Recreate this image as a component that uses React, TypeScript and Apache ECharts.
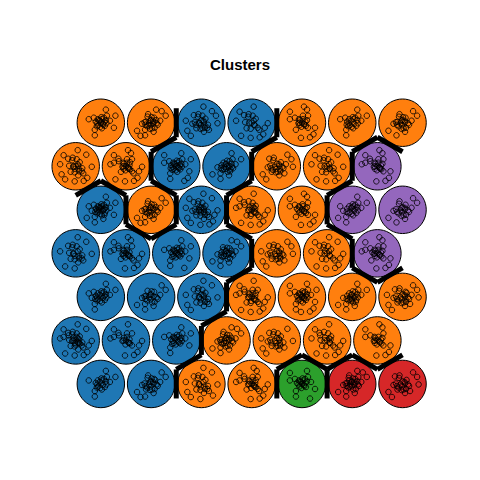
import React, { useEffect, useRef } from "react";
import * as echarts from "echarts";

// cluster label per unit, rows listed from top to bottom, columns left to right
const unitCluster: number[][] = [
  [2, 2, 1, 1, 2, 2, 2],
  [2, 2, 1, 1, 2, 2, 5],
  [1, 2, 1, 2, 2, 5, 5],
  [1, 1, 1, 1, 2, 2, 5],
  [1, 1, 1, 2, 2, 2, 2],
  [1, 1, 1, 2, 2, 2, 2],
  [1, 1, 2, 2, 3, 4, 4],
];
const clusterColors = ["#1f77b4", "#ff7f0e", "#2ca02c", "#d62728", "#9467bd"];

// observations mapped to each unit (estimated)
const unitCounts: number[][] = [
  [28, 32, 30, 24, 26, 24, 26],
  [30, 32, 32, 28, 28, 26, 28],
  [34, 30, 36, 30, 26, 26, 24],
  [24, 30, 28, 28, 28, 26, 28],
  [26, 24, 26, 30, 32, 28, 30],
  [36, 24, 26, 30, 26, 26, 24],
  [22, 28, 26, 30, 26, 32, 26],
];

// jitter offsets of observations around their unit (hundredths of a unit)
const jitter: number[][] = [
  [0, 0], [5, -4], [26, -10], [-4, 5], [7, 2], [-14, 10], [-7, -1], [2, 7], [-24, 7], [-1, -8],
  [8, -6], [12, 14], [-6, 7], [4, -2], [10, 26], [-5, -5], [10, 5], [-12, -14], [-10, 2], [1, 11],
  [-12, -25], [-2, 4], [6, 10], [18, 4], [-8, -7], [11, -1], [29, 14], [2, -11], [-11, -4], [-18, -2],
  [0, 5], [5, 1], [-28, -16], [-4, -1], [7, -10], [5, -18], [-1, -5], [13, -4], [21, 23], [-7, 12],
  [-13, 1], [-6, 17], [4, 4], [-2, -12], [-21, -26], [8, 8], [-10, -11], [15, -14], [32, -1], [-15, 15],
  [6, -5], [-31, 4], [2, 14], [-5, 0], [4, 32], [12, -10], [-2, -30], [23, -23], [-24, 22], [16, -29],
];

export default function App() {
  const ref = useRef<HTMLDivElement>(null);
  useEffect(() => {
    if (!ref.current) return;
    const chart = echarts.init(ref.current, undefined, { renderer: "svg" });
    const h = Math.sqrt(3) / 2;
    const R = 1 / Math.sqrt(3);
    const units: { x: number; y: number; cl: number; n: number; idx: number }[] = [];
    unitCluster.forEach((row, r) =>
      row.forEach((cl, c) => {
        units.push({
          x: c + (r % 2 === 0 ? 0.5 : 0),
          y: (unitCluster.length - 1 - r) * h,
          cl,
          n: unitCounts[r][c],
          idx: units.length,
        });
      })
    );
    const cellData = units.map((u) => [u.x, u.y, u.cl]);
    const pts: number[][] = [];
    units.forEach((u) => {
      const start = (u.idx * 13) % jitter.length;
      for (let k = 0; k < u.n; k++) {
        const j = jitter[(start + k) % jitter.length];
        pts.push([u.x + j[0] / 100, u.y + j[1] / 100]);
      }
    });
    const edges: number[][] = [];
    for (let i = 0; i < units.length; i++) {
      for (let k = i + 1; k < units.length; k++) {
        const a = units[i], b = units[k];
        const dx = b.x - a.x, dy = b.y - a.y;
        const d = Math.sqrt(dx * dx + dy * dy);
        if (Math.abs(d - 1) < 0.01 && a.cl !== b.cl) {
          const mx = (a.x + b.x) / 2, my = (a.y + b.y) / 2;
          const px = -dy / d, py = dx / d;
          edges.push([mx + (px * R) / 2, my + (py * R) / 2, mx - (px * R) / 2, my - (py * R) / 2]);
        }
      }
    }
    chart.setOption({
      animation: false,
      title: {
        text: "Clusters",
        left: "center",
        top: 52,
        textStyle: { fontSize: 15, fontWeight: "bold", color: "#000", fontFamily: "Liberation Sans, Arial, sans-serif" },
      },
      grid: { left: 50.56, top: 97.4, width: 377.1, height: 311.7 },
      xAxis: { type: "value", min: -0.5, max: 7, show: false },
      yAxis: { type: "value", min: -0.5, max: 5.7, show: false },
      series: [
        {
          type: "custom",
          data: cellData,
          renderItem: (params: any, api: any) => {
            const c = api.coord([api.value(0), api.value(1)]);
            const s = api.size([1, 0])[0];
            return {
              type: "circle",
              shape: { cx: c[0], cy: c[1], r: s * 0.472 },
              style: { fill: clusterColors[api.value(2) - 1], stroke: "#000", lineWidth: 1 },
            };
          },
          z: 1,
        },
        {
          type: "scatter",
          data: pts,
          symbol: "circle",
          symbolSize: 5.5,
          itemStyle: { color: "rgba(0,0,0,0)", borderColor: "#000", borderWidth: 1 },
          z: 2,
        },
        {
          type: "custom",
          data: edges,
          renderItem: (params: any, api: any) => {
            const p1 = api.coord([api.value(0), api.value(1)]);
            const p2 = api.coord([api.value(2), api.value(3)]);
            return {
              type: "line",
              shape: { x1: p1[0], y1: p1[1], x2: p2[0], y2: p2[1] },
              style: { stroke: "#000", lineWidth: 5, lineCap: "butt" },
            };
          },
          z: 3,
        },
      ],
    });
    return () => chart.dispose();
  }, []);
  return (
    <div
      ref={ref}
      style={{ position: "fixed", left: 0, top: 0, width: 480, height: 480, background: "#fff" }}
    />
  );
}
